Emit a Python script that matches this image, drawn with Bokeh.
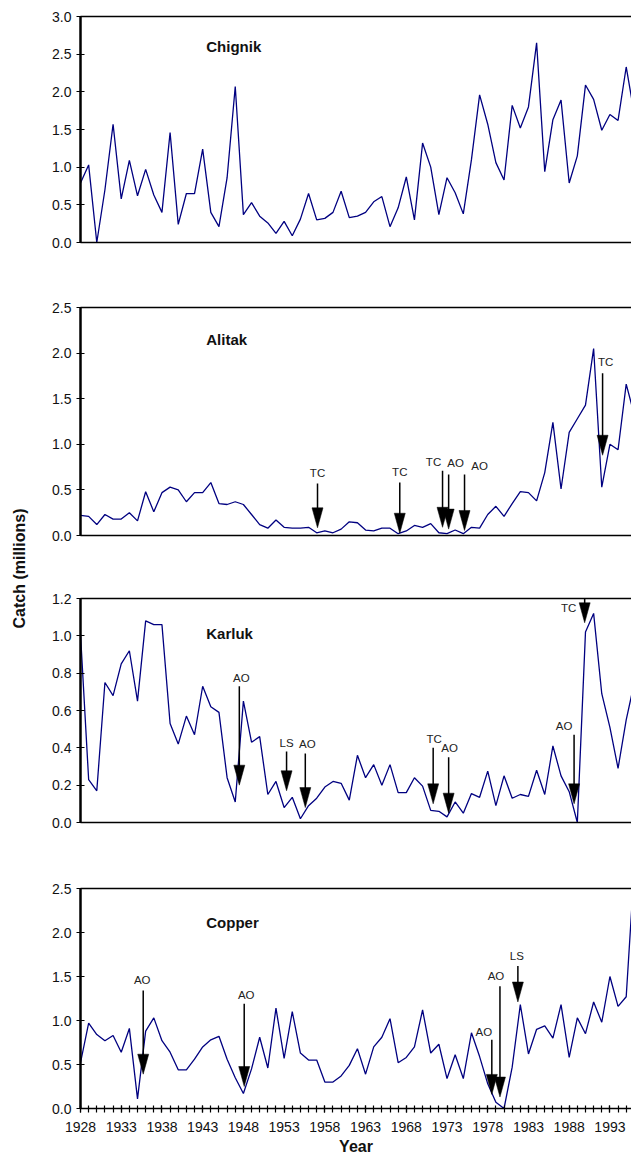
import math
from bokeh.plotting import figure
from bokeh.layouts import column, row
from bokeh.models import Range1d, FixedTicker, LinearAxis, Label, NumeralTickFormatter
from bokeh.embed import file_html
from bokeh.resources import INLINE
from bokeh.core.properties import value

# ---------------- data ----------------
years = list(range(1928, 1997))

chignik = [0.79, 1.03, 0.00, 0.70, 1.57, 0.58, 1.09, 0.62, 0.97, 0.63,
           0.40, 1.46, 0.24, 0.65, 0.65, 1.24, 0.40, 0.21, 0.86, 2.07,
           0.37, 0.53, 0.35, 0.26, 0.12, 0.28, 0.09, 0.31, 0.65, 0.30,
           0.32, 0.40, 0.68, 0.33, 0.35, 0.40, 0.54, 0.61, 0.21, 0.46,
           0.87, 0.30, 1.32, 1.00, 0.37, 0.86, 0.66, 0.38, 1.10, 1.96,
           1.57, 1.06, 0.83, 1.82, 1.52, 1.80, 2.65, 0.94, 1.63, 1.89,
           0.79, 1.15, 2.09, 1.90, 1.49, 1.70, 1.62, 2.33, 1.70]

alitak = [0.22, 0.21, 0.12, 0.23, 0.18, 0.18, 0.25, 0.16, 0.48, 0.26,
          0.47, 0.53, 0.50, 0.37, 0.47, 0.47, 0.58, 0.35, 0.34, 0.37,
          0.34, 0.23, 0.12, 0.08, 0.17, 0.09, 0.08, 0.08, 0.09, 0.03,
          0.05, 0.03, 0.07, 0.15, 0.14, 0.06, 0.05, 0.08, 0.08, 0.02,
          0.05, 0.11, 0.09, 0.13, 0.03, 0.02, 0.06, 0.02, 0.09, 0.08,
          0.23, 0.32, 0.21, 0.35, 0.48, 0.47, 0.38, 0.69, 1.24, 0.51,
          1.13, 1.28, 1.43, 2.05, 0.53, 1.00, 0.94, 1.66, 1.32]

karluk = [1.01, 0.23, 0.17, 0.75, 0.68, 0.85, 0.92, 0.65, 1.08, 1.06,
          1.06, 0.53, 0.42, 0.57, 0.47, 0.73, 0.62, 0.59, 0.24, 0.11,
          0.65, 0.43, 0.46, 0.15, 0.22, 0.08, 0.135, 0.02, 0.09, 0.13,
          0.19, 0.22, 0.21, 0.12, 0.36, 0.24, 0.31, 0.20, 0.31, 0.16,
          0.16, 0.24, 0.195, 0.065, 0.06, 0.03, 0.11, 0.05, 0.155, 0.135,
          0.275, 0.09, 0.25, 0.13, 0.15, 0.14, 0.28, 0.15, 0.41, 0.25,
          0.165, 0.00, 1.02, 1.12, 0.69, 0.51, 0.29, 0.55, 0.75]

copper = [0.52, 0.97, 0.84, 0.77, 0.83, 0.64, 0.91, 0.11, 0.88, 1.03,
          0.77, 0.64, 0.44, 0.44, 0.56, 0.70, 0.78, 0.82, 0.56, 0.35,
          0.17, 0.45, 0.81, 0.46, 1.14, 0.57, 1.10, 0.63, 0.55, 0.55,
          0.30, 0.30, 0.37, 0.49, 0.68, 0.39, 0.70, 0.81, 1.02, 0.52,
          0.58, 0.70, 1.12, 0.63, 0.73, 0.34, 0.61, 0.34, 0.86, 0.59,
          0.28, 0.07, 0.00, 0.47, 1.18, 0.62, 0.90, 0.94, 0.80, 1.18,
          0.58, 1.03, 0.85, 1.21, 0.98, 1.50, 1.16, 1.27, 2.75]

# y tick values
chignik_ticks = [0.0, 0.5, 1.0, 1.5, 2.0, 2.5, 3.0]
alitak_ticks = [0.0, 0.5, 1.0, 1.5, 2.0, 2.5]
karluk_ticks = [0.0, 0.2, 0.4, 0.6, 0.8, 1.0, 1.2]
copper_ticks = [0.0, 0.5, 1.0, 1.5, 2.0, 2.5]

# x tick labels and yearly tick marks
x_label_years = list(range(1928, 1994, 5))
x_tick_years = list(range(1928, 1997))

# intervention arrows: year, arrow tip value, shaft top value, label
alitak_arrow_year = [1957.1, 1967.2, 1972.45, 1973.2, 1975.15, 1992.1]
alitak_arrow_tip = [0.084, 0.025, 0.09, 0.07, 0.055, 0.88]
alitak_arrow_top = [0.57, 0.58, 0.71, 0.67, 0.67, 1.78]
alitak_arrow_label = ["TC", "TC", "TC", "AO", "AO", "TC"]

karluk_arrow_year = [1947.5, 1953.3, 1955.6, 1971.3, 1973.2, 1988.6, 1989.9]
karluk_arrow_tip = [0.20, 0.17, 0.08, 0.10, 0.05, 0.10, 1.07]
karluk_arrow_top = [0.73, 0.38, 0.37, 0.40, 0.35, 0.47, 1.25]
karluk_arrow_label = ["AO", "LS", "AO", "TC", "AO", "AO", "TC"]

copper_arrow_year = [1935.7, 1948.1, 1978.5, 1979.5, 1981.7]
copper_arrow_tip = [0.39, 0.25, 0.16, 0.13, 1.21]
copper_arrow_top = [1.34, 1.19, 0.78, 1.39, 1.62]
copper_arrow_label = ["AO", "AO", "AO", "AO", "LS"]

# label placement offsets (screen px) relative to shaft top: (dx, dy up)
alitak_label_dx = [0, 0, -9, 7, 15, 3]
alitak_label_dy = [11, 11, 9, 11, 8, 11]
karluk_label_dx = [2, 0, 2, 1, 1, -10, -16]
karluk_label_dy = [8, 9, 9, 9, 9, 9, -19]
copper_label_dx = [-1, 2, -8, -4, -1]
copper_label_dy = [11, 9, 8, 10, 10]

# ---------------- styling ----------------
FONT = "Liberation Sans"
LINE_COLOR = "#000080"
X_START, X_END = 1928, 1995.65
LAB_W = 30
FRAME_W = 551
LEFT = 50
TOTAL_H = 1158


def make_panel(name, values, ymax, yticks, frame_h, top, bottom, name_y,
               arrows=None, bottom_ticks=False):
    p = figure(frame_width=FRAME_W, frame_height=frame_h,
               x_range=Range1d(X_START, X_END), y_range=Range1d(0, ymax),
               min_border_left=LEFT, min_border_right=0,
               min_border_top=top, min_border_bottom=bottom,
               toolbar_location=None, output_backend="svg",
               x_axis_location=None, y_axis_location="left")
    p.grid.visible = False
    p.outline_line_color = None
    p.background_fill_color = "white"
    p.border_fill_color = "white"

    ya = p.yaxis[0]
    ya.ticker = FixedTicker(ticks=yticks)
    ya.formatter = NumeralTickFormatter(format="0.0")
    ya.axis_line_color = "black"
    ya.axis_line_width = 2.5
    ya.major_tick_in = 4
    ya.major_tick_out = 4
    ya.major_tick_line_width = 1
    ya.major_tick_line_color = "black"
    ya.minor_tick_line_color = None
    ya.major_label_standoff = 5
    ya.major_label_text_font = FONT
    ya.major_label_text_font_size = "14px"
    ya.major_label_text_color = "#111111"

    # top frame line
    topax = LinearAxis(ticker=FixedTicker(ticks=[]), axis_line_color="black",
                       axis_line_width=1.5, major_tick_line_color=None,
                       minor_tick_line_color=None, major_label_text_font_size="0px")
    p.add_layout(topax, "above")

    if bottom_ticks:
        bax = LinearAxis(ticker=FixedTicker(ticks=x_label_years, minor_ticks=x_tick_years),
                         axis_line_color="black", axis_line_width=1.5,
                         major_tick_in=3, major_tick_out=4, minor_tick_in=3, minor_tick_out=4,
                         major_tick_line_color="black", minor_tick_line_color="black",
                         major_tick_line_width=1.2, minor_tick_line_width=1.2,
                         major_label_standoff=9,
                         major_label_text_font=FONT, major_label_text_font_size="14px",
                         major_label_text_color="#111111",
                         axis_label="Year", axis_label_standoff=3,
                         axis_label_text_font=FONT, axis_label_text_font_size="16px",
                         axis_label_text_font_style="bold", axis_label_text_color="#111111")
    else:
        bax = LinearAxis(ticker=FixedTicker(ticks=[]), axis_line_color="black",
                         axis_line_width=1.5, major_tick_line_color=None,
                         minor_tick_line_color=None, major_label_text_font_size="0px")
    p.add_layout(bax, "below")

    p.line(years, values, line_color=LINE_COLOR, line_width=1.3)

    if arrows is not None:
        ax, tips, tops, labels, dx, dy = arrows
        px_per_year = FRAME_W / (X_END - X_START)
        hw = 5.5 / px_per_year
        hl = 20.0 * ymax / frame_h
        p.segment(x0=ax, y0=tops, x1=ax, y1=[t + hl * 0.5 for t in tips],
                  line_color="black", line_width=1.5)
        p.patches(xs=[[x - hw, x + hw, x] for x in ax],
                  ys=[[t + hl, t + hl, t] for t in tips],
                  fill_color="black", line_color="black", line_width=0.5)
        p.text(x=ax, y=tops, text=labels, x_offset=dx, y_offset=[-d for d in dy],
               text_font=value(FONT), text_font_size="11.5px",
               text_align="center", text_baseline="middle", text_color="#222222")

    p.add_layout(Label(x=1943.44, y=name_y, text=name, text_font=FONT,
                       text_font_size="15px", text_font_style="bold",
                       text_align="left", text_baseline="middle", text_color="#111111"))
    return p


p1 = make_panel("Chignik", chignik, 3.0, chignik_ticks, 226, 16, 33, 2.60)
p2 = make_panel("Alitak", alitak, 2.5, alitak_ticks, 228, 32, 31, 2.15,
                arrows=(alitak_arrow_year, alitak_arrow_tip, alitak_arrow_top,
                        alitak_arrow_label, alitak_label_dx, alitak_label_dy))
p3 = make_panel("Karluk", karluk, 1.2, karluk_ticks, 224, 32, 33, 1.01,
                arrows=(karluk_arrow_year, karluk_arrow_tip, karluk_arrow_top,
                        karluk_arrow_label, karluk_label_dx, karluk_label_dy))
p4 = make_panel("Copper", copper, 2.5, copper_ticks, 220, 33, 50, 2.11,
                arrows=(copper_arrow_year, copper_arrow_tip, copper_arrow_top,
                        copper_arrow_label, copper_label_dx, copper_label_dy),
                bottom_ticks=True)

# narrow figure holding the shared y-axis title
lab = figure(width=LAB_W, height=TOTAL_H, x_range=Range1d(0, LAB_W), y_range=Range1d(0, TOTAL_H),
             min_border=0, toolbar_location=None, output_backend="svg",
             x_axis_location=None, y_axis_location=None)
lab.grid.visible = False
lab.outline_line_color = None
lab.add_layout(Label(x=18.5, y=TOTAL_H - 568, text="Catch (millions)",
                     text_font=FONT, text_font_size="16px", text_font_style="bold",
                     angle=math.pi / 2, text_align="center", text_baseline="middle",
                     text_color="#111111"))

layout = row(lab, column(p1, p2, p3, p4))
open("out.html", "w").write(file_html(layout, INLINE))
